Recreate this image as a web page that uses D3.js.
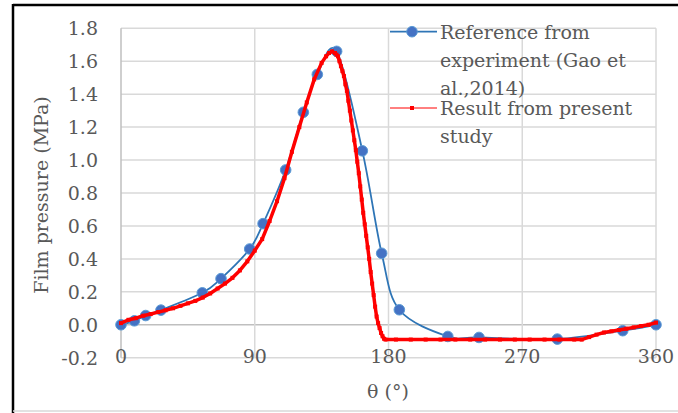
<!DOCTYPE html>
<html>
<head>
<meta charset="utf-8">
<script src="https://cdn.jsdelivr.net/npm/d3@7"></script>
<style>
  body { margin: 0; background: #fff; }
  text { font-family: "DejaVu Serif", serif; fill: #595959; }
</style>
</head>
<body>
<script>
// experiment (Gao et al., 2014)
const refTheta = [0, 9, 16.6, 26.9, 54.7, 67.3, 86.6, 95.6, 110.8, 122.7, 132.1, 145.1, 162.4, 175.4, 187.3, 219.9, 240.9, 293.6, 337.6, 360];
const refP = [0.0, 0.024, 0.056, 0.089, 0.194, 0.28, 0.46, 0.614, 0.94, 1.29, 1.52, 1.66, 1.056, 0.434, 0.091, -0.071, -0.077, -0.087, -0.036, 0.0];

// present study
const resTheta = [0, 5, 10, 15, 20, 25, 30, 35, 40, 45, 50, 55, 60, 65, 70, 75, 80, 85, 90, 95, 100, 105, 110, 115, 120, 125, 130, 135, 138, 140, 142,
  144, 145, 146, 147, 148, 149, 150, 151, 152, 153, 154, 155, 156, 157, 158, 159, 160, 161, 162, 163, 164, 165, 166, 167, 168, 169, 170, 171, 172, 173, 174, 175, 176, 177, 178,
  185, 195, 205, 215, 225, 235, 245, 255, 265, 275, 285, 295, 305, 310, 315, 320, 325, 330, 335, 340, 345, 350, 355, 360];
const resP = [0.01, 0.03, 0.04, 0.055, 0.065, 0.077, 0.088, 0.10, 0.115, 0.13, 0.145, 0.165, 0.19, 0.22, 0.25, 0.285, 0.33, 0.385, 0.45, 0.52, 0.63, 0.75, 0.89, 1.05, 1.20, 1.35, 1.49, 1.59, 1.63, 1.65, 1.66,
  1.65, 1.64, 1.63, 1.60, 1.57, 1.54, 1.51, 1.46, 1.42, 1.36, 1.30, 1.24, 1.18, 1.12, 1.06, 0.99, 0.92, 0.84, 0.76, 0.68, 0.61, 0.54, 0.47, 0.40, 0.32, 0.25, 0.18, 0.11, 0.05, 0.01, -0.02, -0.05, -0.07, -0.085, -0.09,
  -0.09, -0.09, -0.09, -0.09, -0.09, -0.09, -0.09, -0.09, -0.09, -0.09, -0.09, -0.09, -0.09, -0.09, -0.075, -0.06, -0.047, -0.04, -0.032, -0.024, -0.016, -0.008, 0.0, 0.013];

const xTicks = [0, 90, 180, 270, 360];
const yTicks = [-0.2, 0, 0.2, 0.4, 0.6, 0.8, 1.0, 1.2, 1.4, 1.6, 1.8];

const svg = d3.select("body").append("svg")
    .attr("width", 678)
    .attr("height", 413);

// frame
svg.append("line").attr("x1", 13).attr("x2", 678).attr("y1", 5).attr("y2", 5)
    .attr("stroke", "#000").attr("stroke-width", 2.5);
svg.append("line").attr("x1", 13).attr("x2", 13).attr("y1", 4).attr("y2", 413)
    .attr("stroke", "#000").attr("stroke-width", 2.5);
svg.append("line").attr("x1", 13).attr("x2", 678).attr("y1", 411).attr("y2", 411)
    .attr("stroke", "#d9d9d9").attr("stroke-width", 1.5);

const x = d3.scaleLinear().domain([0, 360]).range([121, 656]);
const y = d3.scaleLinear().domain([-0.2, 1.8]).range([357.7, 28.3]);

// grid
svg.append("g").selectAll("line").data(yTicks).join("line")
    .attr("x1", x(0)).attr("x2", x(360))
    .attr("y1", d => y(d)).attr("y2", d => y(d))
    .attr("stroke", d => d === 0 ? "#bfbfbf" : "#d9d9d9")
    .attr("stroke-width", 1.5);
svg.append("g").selectAll("line").data(xTicks).join("line")
    .attr("x1", d => x(d)).attr("x2", d => x(d))
    .attr("y1", y(1.8)).attr("y2", y(-0.2))
    .attr("stroke", d => d === 0 ? "#bfbfbf" : "#d9d9d9")
    .attr("stroke-width", 1.5);

// tick labels
svg.append("g").selectAll("text").data(yTicks).join("text")
    .attr("x", 98).attr("y", d => y(d))
    .attr("dy", "0.36em")
    .attr("text-anchor", "end")
    .style("font-size", "19px")
    .text(d => d.toFixed(1));
svg.append("g").selectAll("text").data(xTicks).join("text")
    .attr("x", d => x(d)).attr("y", 363)
    .attr("text-anchor", "middle")
    .style("font-size", "19px")
    .text(d => d);

// axis titles
svg.append("text")
    .attr("transform", "translate(48, 195) rotate(-90)")
    .attr("text-anchor", "middle")
    .style("font-size", "19px")
    .text("Film pressure (MPa)");
svg.append("text")
    .attr("x", 388).attr("y", 398)
    .attr("text-anchor", "middle")
    .style("font-size", "19px")
    .text("θ (°)");

// reference series (smoothed)
const refData = refTheta.map((t, i) => [t, refP[i]]);
svg.append("path")
    .datum(refData)
    .attr("fill", "none")
    .attr("stroke", "#2e75b6")
    .attr("stroke-width", 1.8)
    .attr("d", d3.line().x(d => x(d[0])).y(d => y(d[1])).curve(d3.curveCardinal.tension(0)));
svg.append("g").selectAll("circle").data(refData).join("circle")
    .attr("cx", d => x(d[0])).attr("cy", d => y(d[1]))
    .attr("r", 5.3)
    .attr("fill", "#4472c4")
    .attr("stroke", "#5b9bd5")
    .attr("stroke-width", 1);

// present study series
const resData = resTheta.map((t, i) => [t, resP[i]]);
svg.append("path")
    .datum(resData)
    .attr("fill", "none")
    .attr("stroke", "#ff0000")
    .attr("stroke-width", 3.5)
    .attr("stroke-linejoin", "round")
    .attr("d", d3.line().x(d => x(d[0])).y(d => y(d[1])));
svg.append("g").selectAll("rect").data(resData).join("rect")
    .attr("x", d => x(d[0]) - 2).attr("y", d => y(d[1]) - 2)
    .attr("width", 4).attr("height", 4)
    .attr("fill", "#ff0000");

// legend (no background, gridlines show through)
const legend = svg.append("g");
legend.append("line").attr("x1", 390).attr("x2", 437).attr("y1", 31.7).attr("y2", 31.7)
    .attr("stroke", "#2e75b6").attr("stroke-width", 1.8);
legend.append("circle").attr("cx", 412).attr("cy", 31.7).attr("r", 5.3)
    .attr("fill", "#4472c4").attr("stroke", "#5b9bd5");
legend.append("line").attr("x1", 390).attr("x2", 437).attr("y1", 108).attr("y2", 108)
    .attr("stroke", "#ff0000").attr("stroke-width", 1);
legend.append("rect").attr("x", 410).attr("y", 106).attr("width", 4).attr("height", 4)
    .attr("fill", "#ff0000");

const legendLines = [
  ["Reference from", 39],
  ["experiment (Gao et", 67],
  ["al.,2014)", 95],
  ["Result from present", 115],
  ["study", 143]
];
legend.selectAll("text.lg").data(legendLines).join("text")
    .attr("class", "lg")
    .attr("x", 440).attr("y", d => d[1])
    .style("font-size", "19px")
    .text(d => d[0]);
</script>
</body>
</html>
